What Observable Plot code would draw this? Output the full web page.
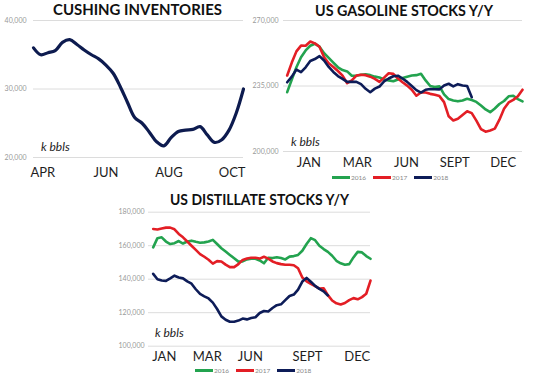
<!DOCTYPE html>
<html><head><meta charset="utf-8">
<script src="https://cdn.jsdelivr.net/npm/d3@7"></script>
<script src="https://cdn.jsdelivr.net/npm/@observablehq/plot@0.6"></script>
<style>
html,body{margin:0;padding:0;background:#fff;}
body{width:535px;height:382px;position:relative;overflow:hidden;font-family:Lato,"Open Sans",sans-serif;}
.panel{position:absolute;}
.title{position:absolute;font-weight:700;font-size:16px;line-height:16px;color:#111;white-space:nowrap;transform-origin:left top;}
.unit{position:absolute;font-style:italic;font-size:12px;line-height:12px;color:#222;white-space:nowrap;}
.legend{position:absolute;display:flex;align-items:center;font-size:6.5px;color:#888;white-space:nowrap;}
.legend .sw{display:inline-block;width:18px;height:3px;margin-right:1px;}
.legend .it{display:flex;align-items:center;margin-right:7px;}
</style>
</head><body>
<script>
// ---------- DATA ----------
const cushingStart = "2018-03-23";
const cushing = [36000, 35000, 35300, 35600, 36800, 37200, 36500, 35700, 35000, 34400, 33500, 32300, 30300, 28000, 25800, 25000, 23700, 22300, 21700, 22900, 23800, 24000, 24100, 24500, 23300, 22200, 22600, 24000, 26500, 30000];
const cushingTicks = ["2018-04-01", "2018-06-01", "2018-08-01", "2018-10-01"];
const cushingTickLabels = ["APR", "JUN", "AUG", "OCT"];
const cushingYTicks = [20000, 30000, 40000];

const seriesNames = ["2016", "2017", "2018"];
const seriesColors = ["#23a34f", "#e31e25", "#0d1c58"];

const gas2016 = [231700, 238500, 245000, 250400, 254000, 256500, 257600, 256000, 252500, 250000, 247500, 245000, 243500, 242800, 240500, 240500, 241000, 241200, 240800, 240000, 239500, 238500, 238000, 237500, 238500, 239300, 240000, 240600, 240800, 241500, 238000, 235000, 234500, 234800, 230500, 228000, 227300, 226800, 227300, 228200, 227500, 226500, 224600, 222500, 221000, 223000, 225400, 227000, 229500, 229800, 228000, 226800];
const gas2017 = [240600, 247500, 253500, 256600, 256500, 258800, 257800, 256000, 250400, 247200, 245200, 243000, 240500, 236500, 238000, 240600, 241000, 240800, 240000, 238800, 237200, 239500, 241800, 241500, 239000, 237000, 235200, 233000, 229800, 231500, 231500, 230800, 230300, 229600, 226400, 218800, 216600, 217500, 219500, 221500, 220500, 216500, 212000, 210600, 211200, 212200, 217000, 222800, 226200, 227600, 229500, 233000];
const gas2018 = [237000, 240000, 243800, 242400, 245000, 248400, 249400, 251000, 248600, 245200, 242500, 240300, 238800, 237200, 237300, 237200, 236000, 233500, 231700, 233600, 234700, 237500, 239000, 240200, 240500, 239000, 237200, 235000, 232800, 231500, 233000, 233400, 233300, 233200, 235300, 236200, 234800, 236000, 235300, 235000, 229000];
const gasTicks = [5.7, 16.2, 26.85, 37.3, 47.8];
const gasTickLabels = ["JAN", "MAR", "JUN", "SEPT", "DEC"];
const gasYTicks = [200000, 235000, 270000];

const dist2016 = [159000, 164500, 165000, 162500, 161000, 161500, 162800, 161300, 162500, 163000, 162300, 161800, 162000, 162500, 163500, 161000, 158500, 156500, 154500, 152500, 150500, 150600, 151800, 152200, 152200, 151200, 149500, 152800, 152600, 153100, 152600, 151800, 153500, 153800, 154500, 157000, 161000, 164500, 163300, 160000, 158000, 156300, 154000, 151000, 149500, 148600, 149000, 153000, 156300, 156000, 153800, 152200];
const dist2017 = [170000, 169700, 170300, 170800, 170800, 169800, 167000, 165000, 162500, 160000, 157500, 155000, 153400, 151600, 149300, 150800, 150600, 148700, 147200, 147200, 149000, 151500, 152300, 152800, 152800, 152300, 153400, 152300, 150600, 149600, 149000, 148600, 148600, 148300, 146500, 141000, 138700, 137200, 135800, 134400, 134600, 130500, 127300, 125600, 124900, 125800, 127500, 128700, 128000, 129300, 131300, 139200];
const dist2018 = [143200, 140000, 139200, 139000, 140500, 142100, 141000, 140500, 138700, 137300, 134000, 131200, 129800, 128500, 126000, 122200, 117800, 115800, 114600, 114600, 115300, 116500, 116000, 116800, 117300, 119800, 121000, 120700, 122800, 124500, 125000, 127500, 130000, 130800, 133800, 138600, 140800, 138500, 136000, 134200, 132700, 130300];
const distTicks = [3.6, 13.7, 23.8, 37.2, 48.9];
const distTickLabels = ["JAN", "MAR", "JUN", "SEPT", "DEC"];
const distYTicks = [100000, 120000, 140000, 160000, 180000];

// ---------- HELPERS ----------
const fmt = d3.format(",");
const toRows = (vals, name) => vals.map((v, i) => ({week: i + 1, value: v, year: name}));
const baseStyle = "background:transparent;overflow:visible;font-family:Lato,'Open Sans',sans-serif;";
const gridColor = "#dcdcdc";

function place(node, left, top) {
  const d = document.createElement("div");
  d.className = "panel";
  d.style.left = left + "px";
  d.style.top = top + "px";
  d.appendChild(node);
  document.body.appendChild(d);
  return d;
}
function addText(cls, text, left, top, extra) {
  const d = document.createElement("div");
  d.className = cls;
  d.textContent = text;
  d.style.left = left + "px";
  d.style.top = top + "px";
  if (extra) d.dataset.w = extra;
  document.body.appendChild(d);
  return d;
}
function addLegend(left, top) {
  const d = document.createElement("div");
  d.className = "legend";
  d.style.left = left + "px";
  d.style.top = top + "px";
  seriesNames.forEach((n, i) => {
    const it = document.createElement("span");
    it.className = "it";
    const sw = document.createElement("span");
    sw.className = "sw";
    sw.style.background = seriesColors[i];
    const t = document.createElement("span");
    t.textContent = n;
    it.appendChild(sw); it.appendChild(t);
    d.appendChild(it);
  });
  document.body.appendChild(d);
}

// ---------- CUSHING ----------
const cStart = new Date(cushingStart + "T00:00:00Z");
const cushingRows = cushing.map((v, i) => ({date: d3.utcDay.offset(cStart, 7 * i), value: v}));
const cTickDates = cushingTicks.map(s => new Date(s + "T00:00:00Z"));
const cLabel = new Map(cTickDates.map((d, i) => [+d, cushingTickLabels[i]]));

const cushingPlot = Plot.plot({
  width: 245, height: 180,
  marginTop: 20, marginBottom: 23, marginLeft: 33, marginRight: 2,
  style: baseStyle,
  x: {type: "utc", domain: [cushingRows[0].date, cushingRows[cushingRows.length - 1].date]},
  y: {domain: [20000, 40000]},
  marks: [
    Plot.gridY(cushingYTicks, {stroke: gridColor, strokeOpacity: 1}),
    Plot.axisY({ticks: cushingYTicks, tickFormat: fmt, tickSize: 0, tickPadding: 7, fontSize: 7, fill: "#999", label: null}),
    Plot.axisX({ticks: cTickDates, tickFormat: d => cLabel.get(+d), tickSize: 0, tickPadding: 10, fontSize: 13, fill: "#1e1e1e", label: null}),
    Plot.line(cushingRows, {x: "date", y: "value", stroke: "#0d1b4f", strokeWidth: 3.2, curve: "catmull-rom"})
  ]
});
place(cushingPlot, 0, 0);

// ---------- GASOLINE ----------
const gasRows = [...toRows(gas2016, "2016"), ...toRows(gas2017, "2017"), ...toRows(gas2018, "2018")];
const gasLabel = new Map(gasTicks.map((t, i) => [t, gasTickLabels[i]]));
const gasPlot = Plot.plot({
  width: 290, height: 195,
  marginTop: 20, marginBottom: 44, marginLeft: 38, marginRight: 13,
  style: baseStyle,
  x: {domain: [0.2, 52]},
  y: {domain: [200000, 270000]},
  color: {domain: seriesNames, range: seriesColors},
  marks: [
    Plot.gridY(gasYTicks, {stroke: gridColor, strokeOpacity: 1}),
    Plot.axisY({ticks: gasYTicks, tickFormat: fmt, tickSize: 0, tickPadding: 5, fontSize: 7, fill: "#999", label: null}),
    Plot.axisX({ticks: gasTicks, tickFormat: d => gasLabel.get(d), tickSize: 0, tickPadding: 6, fontSize: 13, fill: "#1e1e1e", label: null}),
    Plot.line(gasRows, {x: "week", y: "value", z: "year", stroke: "year", strokeWidth: 2.6})
  ]
});
place(gasPlot, 245, 0);

// ---------- DISTILLATE ----------
const distRows = [...toRows(dist2016, "2016"), ...toRows(dist2017, "2017"), ...toRows(dist2018, "2018")];
const distLabel = new Map(distTicks.map((t, i) => [t, distTickLabels[i]]));
const distPlot = Plot.plot({
  width: 275, height: 202,
  marginTop: 31.7, marginBottom: 36.3, marginLeft: 48, marginRight: 5,
  style: baseStyle,
  x: {domain: [-0.1, 52]},
  y: {domain: [100000, 180000]},
  color: {domain: seriesNames, range: seriesColors},
  marks: [
    Plot.gridY(distYTicks, {stroke: gridColor, strokeOpacity: 1}),
    Plot.axisY({ticks: distYTicks, tickFormat: fmt, tickSize: 0, tickPadding: 4, fontSize: 7, fill: "#999", label: null}),
    Plot.axisX({ticks: distTicks, tickFormat: d => distLabel.get(d), tickSize: 0, tickPadding: 6, fontSize: 13, fill: "#1e1e1e", label: null}),
    Plot.line(distRows, {x: "week", y: "value", z: "year", stroke: "year", strokeWidth: 2.6})
  ]
});
place(distPlot, 100, 180);

// ---------- TITLES, UNITS, LEGENDS ----------
addText("title", "CUSHING INVENTORIES", 53, 1, 169);
addText("title", "US GASOLINE STOCKS Y/Y", 315, 2, 178);
addText("title", "US DISTILLATE STOCKS Y/Y", 170, 191, 179);
document.querySelectorAll(".title").forEach(el => {
  const w = el.getBoundingClientRect().width;
  el.style.transform = `scaleX(${(+el.dataset.w) / w})`;
});
addText("unit", "k bbls", 41, 141);
addText("unit", "k bbls", 291, 136);
addText("unit", "k bbls", 155, 327);
addLegend(332, 174);
addLegend(195, 367);
</script>
</body></html>
